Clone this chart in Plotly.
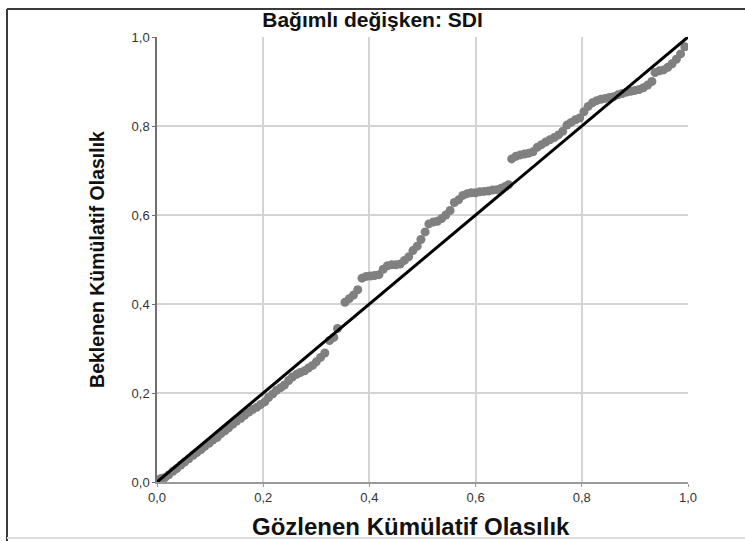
import plotly.graph_objects as go

observed = [0.000, 0.008, 0.015, 0.022, 0.030, 0.037, 0.045, 0.052, 0.060, 0.068,
            0.075, 0.083, 0.090, 0.098, 0.105, 0.113, 0.120, 0.128, 0.135, 0.143,
            0.150, 0.158, 0.165, 0.173, 0.180, 0.188, 0.195, 0.203, 0.210, 0.218,
            0.225, 0.233, 0.240, 0.248, 0.255, 0.263, 0.270, 0.278, 0.285, 0.293,
            0.300, 0.308, 0.316, 0.325, 0.333, 0.340, 0.354, 0.362, 0.370, 0.378,
            0.386, 0.394, 0.402, 0.410, 0.418, 0.426, 0.434, 0.442, 0.450, 0.458,
            0.466, 0.474, 0.482, 0.490, 0.497, 0.505, 0.512, 0.520, 0.528, 0.536,
            0.544, 0.552, 0.560, 0.568, 0.576, 0.584, 0.592, 0.600, 0.608, 0.616,
            0.624, 0.632, 0.640, 0.648, 0.656, 0.662, 0.668, 0.676, 0.684, 0.692,
            0.700, 0.708, 0.716, 0.724, 0.732, 0.740, 0.748, 0.756, 0.764, 0.772,
            0.780, 0.788, 0.796, 0.804, 0.812, 0.820, 0.828, 0.836, 0.844, 0.852,
            0.860, 0.868, 0.876, 0.884, 0.892, 0.900, 0.908, 0.916, 0.924, 0.932,
            0.938, 0.946, 0.954, 0.962, 0.970, 0.978, 0.986, 0.994]
expected = [0.005, 0.008, 0.010, 0.016, 0.024, 0.030, 0.038, 0.045, 0.052, 0.060,
            0.066, 0.073, 0.080, 0.087, 0.094, 0.100, 0.108, 0.115, 0.122, 0.130,
            0.137, 0.143, 0.150, 0.157, 0.163, 0.168, 0.174, 0.180, 0.190, 0.198,
            0.206, 0.212, 0.218, 0.228, 0.236, 0.242, 0.246, 0.250, 0.256, 0.262,
            0.270, 0.280, 0.290, 0.318, 0.325, 0.345, 0.404, 0.412, 0.420, 0.432,
            0.458, 0.462, 0.463, 0.464, 0.466, 0.478, 0.486, 0.488, 0.488, 0.490,
            0.498, 0.506, 0.520, 0.530, 0.545, 0.562, 0.580, 0.584, 0.586, 0.592,
            0.600, 0.610, 0.628, 0.634, 0.644, 0.648, 0.650, 0.650, 0.652, 0.653,
            0.654, 0.656, 0.657, 0.660, 0.664, 0.668, 0.726, 0.732, 0.735, 0.737,
            0.739, 0.742, 0.752, 0.758, 0.764, 0.769, 0.774, 0.780, 0.788, 0.802,
            0.808, 0.814, 0.818, 0.832, 0.844, 0.852, 0.857, 0.860, 0.862, 0.864,
            0.866, 0.870, 0.873, 0.876, 0.878, 0.880, 0.882, 0.886, 0.892, 0.900,
            0.920, 0.924, 0.926, 0.932, 0.940, 0.950, 0.962, 0.978]

ref_line = [0.0, 1.0]
tick_vals = [0.0, 0.2, 0.4, 0.6, 0.8, 1.0]
tick_text = ["0,0", "0,2", "0,4", "0,6", "0,8", "1,0"]

title_text = "Bağımlı değişken: SDI"
x_title = "Gözlenen Kümülatif Olasılık"
y_title = "Beklenen Kümülatif Olasılık"

FONT = "Liberation Sans, Arial, sans-serif"

fig = go.Figure()
fig.add_trace(go.Scatter(
    x=observed, y=expected, mode="markers",
    marker=dict(size=9, color="#808080", line=dict(width=0)),
    showlegend=False, hoverinfo="x+y"))
fig.add_trace(go.Scatter(
    x=ref_line, y=ref_line, mode="lines",
    line=dict(color="black", width=3),
    showlegend=False, hoverinfo="skip"))

axis_common = dict(
    range=[0, 1], tickvals=tick_vals, ticktext=tick_text,
    showgrid=True, gridcolor="#d4d4d4", gridwidth=1.5,
    zeroline=False, showline=True, ticks="outside", ticklen=3,
    tickfont=dict(family=FONT, size=13, color="#333333"),
    fixedrange=True, automargin=False,
)

fig.update_layout(
    width=745, height=541,
    margin=dict(l=157, r=57, t=37, b=59),
    paper_bgcolor="white", plot_bgcolor="white",
    title=dict(text="<b>" + title_text + "</b>", x=0.5, xref="container",
               xanchor="center", y=1 - 20 / 541, yref="container",
               yanchor="middle", automargin=False,
               font=dict(family=FONT, size=21, color="#111111")),
    xaxis=dict(**axis_common, linecolor="#9a9a9a", linewidth=1.5,
               tickcolor="#9a9a9a"),
    yaxis=dict(**axis_common, linecolor="#707070", linewidth=1.5,
               tickcolor="#707070",
               title=dict(text="<b>" + y_title + "</b>", standoff=22,
                          font=dict(family=FONT, size=19.5, color="#111111"))),
    annotations=[
        dict(text="<b>" + x_title + "</b>", xref="paper", yref="paper",
             x=0.478, y=-0.101, xanchor="center", yanchor="middle",
             showarrow=False,
             font=dict(family=FONT, size=24, color="#111111")),
    ],
    shapes=[
        dict(type="line", xref="paper", yref="paper",
             x0=-0.2825, x1=1.2, y0=1.0629, y1=1.0629,
             line=dict(color="#3a3a3a", width=2)),
        dict(type="line", xref="paper", yref="paper",
             x0=-0.2825, x1=-0.2825, y0=1.0629, y1=-0.2,
             line=dict(color="#3a3a3a", width=2)),
        dict(type="line", xref="paper", yref="paper",
             x0=-0.2825, x1=1.2, y0=-0.1258, y1=-0.1258,
             line=dict(color="#dddddd", width=2)),
    ],
)

fig.write_html("out.html",
               config={"displayModeBar": False},
               post_script="document.body.style.margin='0';")
